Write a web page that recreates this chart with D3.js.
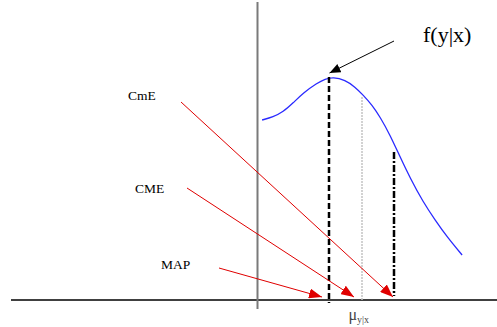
<!DOCTYPE html>
<html>
<head>
<meta charset="utf-8">
<script src="https://cdn.jsdelivr.net/npm/d3@7/dist/d3.min.js"></script>
<style>
  html, body { margin: 0; padding: 0; background: #fff; }
  svg { display: block; }
</style>
</head>
<body>
<svg id="chart" width="497" height="327"></svg>
<script>
// Conditional density f(y|x): sample points along y and their density
const curveY = [0.23, 0.78, 1.28, 1.78, 2.28, 2.98, 3.38, 3.78, 4.38, 4.88, 5.28, 5.73, 6.13, 6.63, 7.13, 7.63, 8.28, 8.88, 9.48, 10.23];
const curveDensity = [0.180, 0.183, 0.188, 0.197, 0.207, 0.217, 0.221, 0.223, 0.220, 0.213, 0.205, 0.195, 0.183, 0.165, 0.143, 0.122, 0.098, 0.080, 0.063, 0.045];

// Point estimators: MAP (mode), CME (mean), CmE (median)
const estimatorNames = ["MAP", "CME", "CmE"];
const estimatorY = [3.575, 5.225, 6.825];
const estimatorTop = [0.223, 0.203, 0.148];
const estimatorBottom = [-0.003, 0.0, 0.004];

// Label anchors and arrow start points for each estimator
const labelY = [-4.825, -6.125, -6.475];
const labelDensity = [0.031, 0.107, 0.200];
const arrowStartY = [-1.925, -3.525, -3.825];
const arrowStartDensity = [0.032, 0.112, 0.198];
const arrowTipY = [3.225, 4.825, 6.775];
const arrowTipDensity = [0.003, 0.003, 0.003];

const svg = d3.select("#chart");

const x = d3.scaleLinear().domain([-12.325, 11.975]).range([11, 497]);
const y = d3.scaleLinear().domain([0, 0.3]).range([300, 0]);

const defs = svg.append("defs");
function marker(id, color, len, wid) {
  defs.append("marker")
    .attr("id", id)
    .attr("viewBox", `0 0 ${len} ${wid}`)
    .attr("refX", len).attr("refY", wid / 2)
    .attr("markerUnits", "userSpaceOnUse")
    .attr("markerWidth", len).attr("markerHeight", wid)
    .attr("orient", "auto")
    .append("path")
    .attr("d", `M0,0L${len},${wid / 2}L0,${wid}Z`)
    .attr("fill", color);
}
marker("redHead", "#e00000", 13, 10);
marker("blackHead", "#000", 11, 9);

// Horizontal (y) axis
svg.append("line")
  .attr("x1", x.range()[0]).attr("x2", x.range()[1])
  .attr("y1", y(0)).attr("y2", y(0))
  .attr("stroke", "#000").attr("stroke-width", 1.5);

// Vertical axis at y = 0
svg.append("line")
  .attr("x1", x(0)).attr("x2", x(0))
  .attr("y1", 2).attr("y2", y(-0.009))
  .attr("stroke", "#7a7a7a").attr("stroke-width", 2);

// Density curve
const line = d3.line()
  .x((d, i) => x(curveY[i]))
  .y((d, i) => y(curveDensity[i]))
  .curve(d3.curveBasis);
svg.append("path")
  .datum(curveY)
  .attr("d", line)
  .attr("fill", "none")
  .attr("stroke", "#2a2aff")
  .attr("stroke-width", 1.3);

// Estimator verticals
const styles = [
  { stroke: "#000", width: 2.5, dash: "6,3" },
  { stroke: "#c4c4c4", width: 1.5, dash: "2,1" },
  { stroke: "#000", width: 2.5, dash: "7,2,2,2" }
];
estimatorY.forEach((v, i) => {
  svg.append("line")
    .attr("x1", x(v)).attr("x2", x(v))
    .attr("y1", y(estimatorTop[i])).attr("y2", y(estimatorBottom[i]))
    .attr("stroke", styles[i].stroke)
    .attr("stroke-width", styles[i].width)
    .attr("stroke-dasharray", styles[i].dash);
});

// Estimator labels and red arrows
const font = "'Liberation Serif', 'Times New Roman', serif";
estimatorNames.forEach((name, i) => {
  svg.append("text")
    .attr("x", x(labelY[i])).attr("y", y(labelDensity[i]))
    .attr("font-family", font).attr("font-size", 13.5)
    .attr("fill", "#000")
    .text(name);
  svg.append("line")
    .attr("x1", x(arrowStartY[i])).attr("y1", y(arrowStartDensity[i]))
    .attr("x2", x(arrowTipY[i])).attr("y2", y(arrowTipDensity[i]))
    .attr("stroke", "#e00000").attr("stroke-width", 1)
    .attr("marker-end", "url(#redHead)");
});

// f(y|x) label with pointer to the mode
svg.append("line")
  .attr("x1", x(6.825)).attr("y1", y(0.259))
  .attr("x2", x(3.6)).attr("y2", y(0.227))
  .attr("stroke", "#000").attr("stroke-width", 1)
  .attr("marker-end", "url(#blackHead)");
svg.append("text")
  .attr("x", x(8.275)).attr("y", y(0.258))
  .attr("font-family", font).attr("font-size", 22)
  .attr("fill", "#000")
  .text("f(y|x)");

// Mean label μ_{y|x}
const mu = svg.append("text")
  .attr("x", x(4.55)).attr("y", y(-0.020))
  .attr("font-family", font).attr("font-size", 16)
  .attr("fill", "#444");
mu.append("tspan").text("μ");
mu.append("tspan").attr("font-size", 10).attr("dy", 3).text("y|x");
</script>
</body>
</html>
